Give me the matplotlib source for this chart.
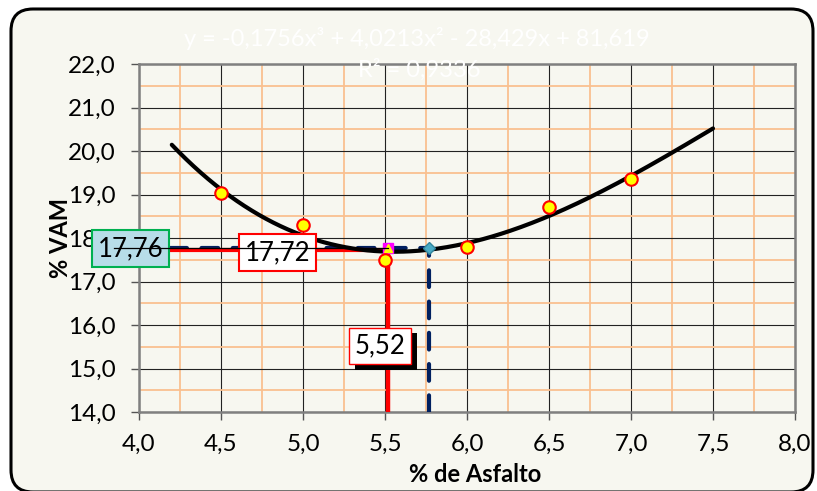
import matplotlib
matplotlib.use("Agg")
import matplotlib.pyplot as plt
import numpy as np
from matplotlib.patches import FancyBboxPatch
from matplotlib.transforms import IdentityTransform
from matplotlib.ticker import MultipleLocator, FuncFormatter
import matplotlib.patheffects as pe

plt.rcParams['font.family'] = ['Lato', 'DejaVu Sans']

# Ensayo Marshall: % de asfalto vs % VAM
asfalto = [4.5, 5.0, 5.5, 6.0, 6.5, 7.0]
vam = [19.04, 18.31, 17.49, 17.79, 18.72, 19.36]

# Ajuste polinomial de tercer grado (coeficientes de la línea de tendencia)
coef = [-0.1756, 4.0213, -28.429, 81.619]
r2 = 0.9336
x_fit_range = [4.2, 7.5]

# Valores de diseño
vam_min = 17.72
vam_ref = 17.76
asfalto_opt = 5.52
asfalto_ref = 5.77

fig = plt.figure(figsize=(8.17, 4.91), dpi=100)
fig.patch.set_facecolor('white')

# Marco redondeado del gráfico (en píxeles)
frame = FancyBboxPatch((11, -1), 802, 483, boxstyle="round,pad=0,rounding_size=22",
                       transform=IdentityTransform(), facecolor='#F7F7F0',
                       edgecolor='black', linewidth=2.2, zorder=-5)
fig.add_artist(frame)

ax = fig.add_axes([139/817, 1-412/491, 656/817, 348/491])
ax.set_zorder(2)
ax.set_facecolor('#F7F7F0')
ax.set_xlim(4.0, 8.0)
ax.set_ylim(14.0, 22.0)

ax.xaxis.set_major_locator(MultipleLocator(0.5))
ax.xaxis.set_minor_locator(MultipleLocator(0.25))
ax.yaxis.set_major_locator(MultipleLocator(1.0))
ax.yaxis.set_minor_locator(MultipleLocator(0.5))
fmt = FuncFormatter(lambda v, p: f"{v:.1f}".replace('.', ','))
ax.xaxis.set_major_formatter(fmt)
ax.yaxis.set_major_formatter(fmt)

ax.grid(which='minor', color='#FAC090', linewidth=1.3, zorder=0)
ax.grid(which='major', color='#222222', linewidth=0.8, zorder=0.5)
ax.set_axisbelow(True)
ax.tick_params(which='minor', length=0)
ax.tick_params(which='major', length=6, width=1, color='#555555', labelsize=17.5)
ax.tick_params(axis='x', which='major', pad=10)
ax.tick_params(axis='y', which='major', pad=11)
for s in ax.spines.values():
    s.set_color('#808080')
    s.set_linewidth(1.8)

# Líneas de diseño
navy = '#002060'
ax.plot([4.0, asfalto_ref], [vam_ref, vam_ref], color=navy, lw=3, dashes=(4, 3.5),
        dash_capstyle='round', zorder=3)
ax.plot([asfalto_ref, asfalto_ref], [14.0, vam_ref], color=navy, lw=3, dashes=(4, 3.5),
        dash_capstyle='round', zorder=3)
ax.plot([4.0, asfalto_opt], [vam_min, vam_min], color='red', lw=3, zorder=3)
ax.plot([asfalto_opt, asfalto_opt], [14.0, vam_min], color='red', lw=3.2, zorder=3)

# Curva de ajuste
xf = np.linspace(x_fit_range[0], x_fit_range[1], 300)
ax.plot(xf, np.polyval(coef, xf), color='black', lw=3, zorder=4, solid_capstyle='round')

# Puntos de intersección
ax.plot([asfalto_opt], [vam_ref], marker='s', color='magenta', ms=7, zorder=5, ls='none')
ax.plot([asfalto_opt], [vam_ref], marker='^', color='yellow', ms=6, zorder=5, ls='none')
ax.plot([asfalto_ref], [vam_ref], marker='D', mfc='#4BACC6', mec='#31859C', ms=6,
        zorder=5, ls='none')

# Datos del ensayo
ax.plot(asfalto, vam, ls='none', marker='o', ms=9, mfc='yellow', mec='red', mew=1.5,
        zorder=6, clip_on=False)

# Etiquetas de valores
lab = lambda v, d: f"{v:.{d}f}".replace('.', ',')
ax.text(3.948, vam_ref, lab(vam_ref, 2), ha='center', va='center', fontsize=18.5, zorder=7,
        bbox=dict(boxstyle='square,pad=0.22', fc='#B7DDE8', ec='#00B050', lw=1.5),
        clip_on=False)
ax.text(4.845, 17.67, lab(vam_min, 2), ha='center', va='center', fontsize=18.5, zorder=7,
        bbox=dict(boxstyle='square,pad=0.22', fc='white', ec='red', lw=1.5))
t = ax.text(5.47, 15.52, lab(asfalto_opt, 2), ha='center', va='center', fontsize=18.5,
            zorder=7, bbox=dict(boxstyle='square,pad=0.22', fc='white', ec='red', lw=1))
t.get_bbox_patch().set_path_effects([
    pe.SimplePatchShadow(offset=(4, -4), shadow_rgbFace='black', alpha=1), pe.Normal()])

# Línea de referencia fina
ax.plot([3.85, asfalto_opt], [vam_ref, vam_ref], color='black', lw=0.9, zorder=8,
        clip_on=False)

# Ecuación de la línea de tendencia
eq = (f"y = {lab(coef[0], 4)}x³ + {lab(coef[1], 4)}x² - {lab(-coef[2], 3)}x + "
      f"{lab(coef[3], 3)}")
fig.text(417/817, 1-38/491, eq, color='white', fontsize=17, ha='center', va='center',
         zorder=10)
fig.text(419/817, 1-70/491, f"R² = {lab(r2, 4)}", color='white', fontsize=17,
         ha='center', va='center', zorder=10)

fig.text(60/817, 1-238/491, '% VAM', rotation=90, fontsize=17, fontweight='bold',
         ha='center', va='center', zorder=10)
fig.text(475/817, 1-474/491, '% de Asfalto', fontsize=17, fontweight='bold',
         ha='center', va='center', zorder=10)

fig.savefig('out.png', dpi=100, facecolor='white')
